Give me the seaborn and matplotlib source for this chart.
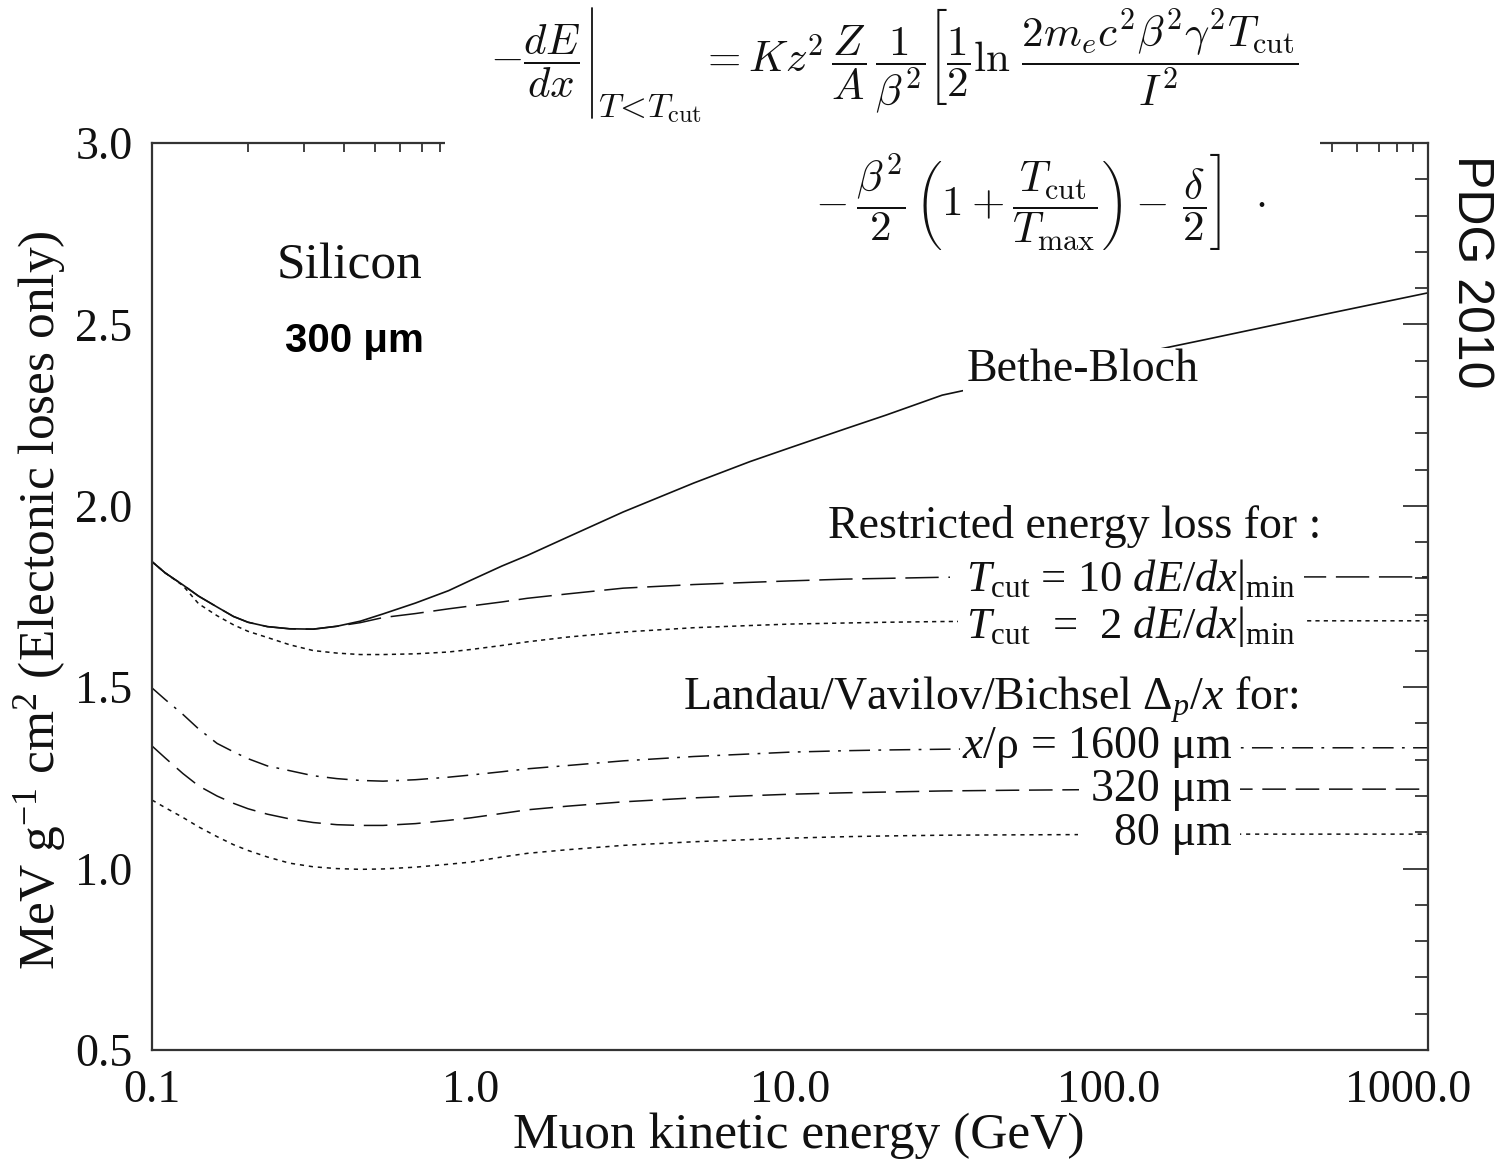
import matplotlib
matplotlib.use("Agg")
import matplotlib.pyplot as plt
import matplotlib.transforms as mtransforms
from matplotlib.lines import Line2D
from matplotlib.patches import Rectangle
from matplotlib.ticker import (FixedLocator, FixedFormatter, MultipleLocator,
                               LogLocator, NullFormatter)
import numpy as np
import pandas as pd
import seaborn as sns

# Muon kinetic energy grid (GeV)
energy_gev = [0.1, 0.11, 0.125, 0.14, 0.16, 0.18, 0.2, 0.23, 0.27, 0.32, 0.38, 0.45,
              0.53, 0.67, 0.85, 1.0, 1.25, 1.5, 2.0, 3.0, 5.0, 7.5, 10.0, 15.0, 20.0,
              30.0, 50.0, 100.0, 200.0, 500.0, 1000.0]

# Mean energy loss (Bethe-Bloch), MeV g^-1 cm^2
bethe_bloch = [1.846, 1.815, 1.782, 1.751, 1.721, 1.695, 1.679, 1.667, 1.661, 1.660,
               1.668, 1.682, 1.702, 1.732, 1.766, 1.795, 1.834, 1.863, 1.913, 1.983,
               2.063, 2.122, 2.160, 2.213, 2.250, 2.305, 2.347, 2.403, 2.458, 2.532,
               2.587]
# Restricted energy loss, T_cut = 10 dE/dx|min and 2 dE/dx|min
tcut_10 = [1.846, 1.815, 1.782, 1.751, 1.721, 1.695, 1.679, 1.667, 1.661, 1.660,
           1.668, 1.678, 1.692, 1.703, 1.716, 1.724, 1.735, 1.745, 1.757, 1.773,
           1.783, 1.789, 1.793, 1.798, 1.800, 1.803, 1.804, 1.804, 1.804, 1.804,
           1.804]
tcut_2 = [1.846, 1.815, 1.780, 1.730, 1.697, 1.672, 1.654, 1.637, 1.617, 1.601,
          1.594, 1.590, 1.590, 1.592, 1.597, 1.604, 1.615, 1.625, 1.638, 1.652,
          1.664, 1.670, 1.674, 1.677, 1.679, 1.681, 1.682, 1.683, 1.683, 1.683,
          1.683]
# Landau/Vavilov/Bichsel most probable loss per unit thickness
landau_1600 = [1.498, 1.466, 1.425, 1.385, 1.345, 1.322, 1.303, 1.283, 1.270, 1.256,
               1.248, 1.243, 1.241, 1.245, 1.252, 1.258, 1.267, 1.275, 1.284, 1.297,
               1.309, 1.316, 1.321, 1.325, 1.327, 1.329, 1.331, 1.332, 1.333, 1.333,
               1.333]
landau_320 = [1.338, 1.305, 1.262, 1.228, 1.200, 1.180, 1.165, 1.150, 1.137, 1.127,
              1.121, 1.119, 1.119, 1.124, 1.133, 1.140, 1.152, 1.162, 1.172, 1.184,
              1.195, 1.201, 1.205, 1.209, 1.211, 1.214, 1.216, 1.218, 1.219, 1.219,
              1.219]
landau_80 = [1.189, 1.168, 1.141, 1.115, 1.088, 1.066, 1.050, 1.032, 1.015, 1.005,
             1.000, 0.998, 0.999, 1.004, 1.012, 1.018, 1.032, 1.042, 1.052, 1.064,
             1.074, 1.080, 1.084, 1.088, 1.090, 1.092, 1.093, 1.094, 1.095, 1.095,
             1.095]

x_tick_values = [0.1, 1.0, 10.0, 100.0, 1000.0]
x_tick_labels = ["0.1", "1.0", "10.0", "100.0", "1000.0"]

sns.set_style("white")
plt.rcParams.update({
    "font.family": ["Liberation Serif", "DejaVu Serif"],
    "mathtext.fontset": "custom",
    "mathtext.rm": "Liberation Serif",
    "mathtext.it": "Liberation Serif:italic",
    "mathtext.bf": "Liberation Serif:bold",
    "mathtext.sf": "Liberation Sans",
    "lines.scale_dashes": False,
    "text.color": "#111111",
})

W, H = 1499, 1162
fig = plt.figure(figsize=(W / 100, H / 100), dpi=100)
ax = fig.add_axes([152 / W, 1 - 1050 / H, 1276 / W, 907 / H])


def fx(px):
    return px / W


def fy(py):
    return 1 - py / H


def ax_x(px):
    return (px - 152) / 1276


def ax_y(py):
    return (1050 - py) / 907


line_color = "#111111"
series = [
    (bethe_bloch, "-", 1.2),
    (tcut_10, (0, (24, 7)), 1.1),
    (tcut_2, (0, (3, 3)), 1.1),
    (landau_1600, (0, (15, 6, 2, 6)), 1.1),
    (landau_320, (0, (17, 7)), 1.1),
    (landau_80, (0, (3, 3.5)), 1.1),
]
for values, ls, lw in series:
    sns.lineplot(x=energy_gev, y=values, ax=ax, color=line_color, linewidth=lw,
                 linestyle=ls, estimator=None, sort=False, zorder=2)

ax.set_xscale("log")
ax.set_xlim(0.1, 1000)
ax.set_ylim(0.5, 3.0)
ax.set_xlabel("")
ax.set_ylabel("")

ax.xaxis.set_major_locator(FixedLocator(x_tick_values))
ax.xaxis.set_major_formatter(FixedFormatter(x_tick_labels))
ax.xaxis.set_minor_locator(LogLocator(base=10, subs=np.arange(2, 10), numticks=30))
ax.xaxis.set_minor_formatter(NullFormatter())
ax.yaxis.set_major_locator(MultipleLocator(0.5))
ax.yaxis.set_minor_locator(MultipleLocator(0.1))

frame_color = "#333333"
for sp in ax.spines.values():
    sp.set_color(frame_color)
    sp.set_linewidth(1.6)
ax.tick_params(which="both", direction="in", top=True, right=True,
               width=1.3, color=frame_color, labelcolor="#111111")
ax.tick_params(axis="y", which="major", length=18, labelsize=33, pad=14)
ax.tick_params(axis="y", which="minor", length=9.5)
ax.tick_params(axis="x", which="major", length=12, labelsize=33, pad=14)
ax.tick_params(axis="x", which="minor", length=6.5)

last = ax.get_xticklabels()[-1]
last.set_transform(last.get_transform() +
                   mtransforms.ScaledTranslation(-0.2, 0, fig.dpi_scale_trans))

# Axis titles
fig.text(fx(40), fy(600), r"MeV g$^{-1}$ cm$^2$ (Electonic loses only)",
         rotation=90, ha="center", va="center", fontsize=37)
fig.text(fx(799), fy(1136), "Muon kinetic energy (GeV)",
         ha="center", va="center", fontsize=37)

# Material labels
ax.text(ax_x(277), ax_y(266), "Silicon", transform=ax.transAxes,
        ha="left", va="center", fontsize=37)
ax.text(ax_x(285), ax_y(341), "300 μm", transform=ax.transAxes,
        ha="left", va="center", fontsize=29, family="Liberation Sans",
        weight="bold", color="black")

# Curve labels
t_bb = ax.text(ax_x(967), ax_y(370), "Bethe-Bloch", transform=ax.transAxes,
               ha="left", va="center", fontsize=33, zorder=4)
ax.text(ax_x(828), ax_y(527), "Restricted energy loss for :", transform=ax.transAxes,
        ha="left", va="center", fontsize=33, zorder=4)
t_c10 = ax.text(ax_x(966), ax_y(579), r"$T_{\mathrm{cut}}$ = 10 $dE/dx$|$_{\mathrm{min}}$",
                transform=ax.transAxes, ha="left", va="center", fontsize=32, zorder=4)
t_c2 = ax.text(ax_x(966), ax_y(626), r"$T_{\mathrm{cut}}$  =  2 $dE/dx$|$_{\mathrm{min}}$",
               transform=ax.transAxes, ha="left", va="center", fontsize=32, zorder=4)
ax.text(ax_x(683), ax_y(700), r"Landau/Vavilov/Bichsel $\Delta_p/x$ for:",
        transform=ax.transAxes, ha="left", va="center", fontsize=33, zorder=4)
t_1600 = ax.text(ax_x(1232), ax_y(748), r"$x$/ρ = 1600 μm", transform=ax.transAxes,
                 ha="right", va="center", fontsize=33, zorder=4)
t_320 = ax.text(ax_x(1232), ax_y(790), "320 μm", transform=ax.transAxes,
                ha="right", va="center", fontsize=33, zorder=4)
t_80 = ax.text(ax_x(1232), ax_y(834), "80 μm", transform=ax.transAxes,
               ha="right", va="center", fontsize=33, zorder=4)

# Restricted-loss formula over the top of the frame
fig.add_artist(Rectangle((fx(445), fy(164)), (1320 - 445) / W, 164 / H,
                         transform=fig.transFigure, facecolor="white",
                         edgecolor="none", zorder=5))
fig.text(fx(490), fy(61), r"$-\dfrac{dE}{dx}$", ha="left", va="center",
         fontsize=31, math_fontfamily="cm", zorder=6)
fig.add_artist(Line2D([fx(592), fx(592)], [fy(8), fy(118)], transform=fig.transFigure,
                      color="#111111", linewidth=1.3, zorder=6))
fig.text(fx(598), fy(117), r"$T\!<\!T_\mathrm{cut}$", ha="left", va="baseline",
         fontsize=25, math_fontfamily="cm", zorder=6)
fig.text(fx(700), fy(61),
         r"$=Kz^2\,\dfrac{Z}{A}\,\dfrac{1}{\beta^2}\left[\dfrac{1}{2}\ln\,"
         r"\dfrac{2m_ec^2\beta^2\gamma^2T_\mathrm{cut}}{I^2}\right.$",
         ha="left", va="center", fontsize=31, math_fontfamily="cm", zorder=6)
fig.text(fx(808), fy(201),
         r"$\left.-\dfrac{\beta^2}{2}\,\left(1+\dfrac{T_\mathrm{cut}}{T_\mathrm{max}}\right)"
         r"-\,\dfrac{\delta}{2}\right]\;\;\cdot$",
         ha="left", va="center", fontsize=31, math_fontfamily="cm", zorder=6)

# Edition tag on the right margin
fig.text(fx(1471), fy(155), "PDG 2010", rotation=270, ha="center", va="top",
         fontsize=36, family="Liberation Sans", color="#111111")

# White knockouts so the curves break around their labels
fig.canvas.draw()
renderer = fig.canvas.get_renderer()
to_axes = ax.transAxes.inverted()


def knockout(text, left_pad, right_pad, half_band=None, vpad=3):
    ext = text.get_window_extent(renderer)
    x0, x1 = ext.x0 - left_pad, ext.x1 + right_pad
    if half_band is None:
        y0, y1 = ext.y0 - vpad, ext.y1 + vpad
    else:
        yc = 0.5 * (ext.y0 + ext.y1)
        y0, y1 = yc - half_band, yc + half_band
    (ax0, ay0), (ax1, ay1) = to_axes.transform([(x0, y0), (x1, y1)])
    ax.add_patch(Rectangle((ax0, ay0), ax1 - ax0, ay1 - ay0, transform=ax.transAxes,
                           facecolor="white", edgecolor="none", zorder=3))


knockout(t_bb, 4, 2, vpad=1)
knockout(t_c10, 16, 8, half_band=12)
knockout(t_c2, 8, 8, half_band=12)
knockout(t_1600, 2, 8, half_band=12)
knockout(t_320, 12, 8, half_band=12)
knockout(t_80, 36, 8, half_band=12)

fig.savefig("out.png", dpi=100, facecolor="white")
